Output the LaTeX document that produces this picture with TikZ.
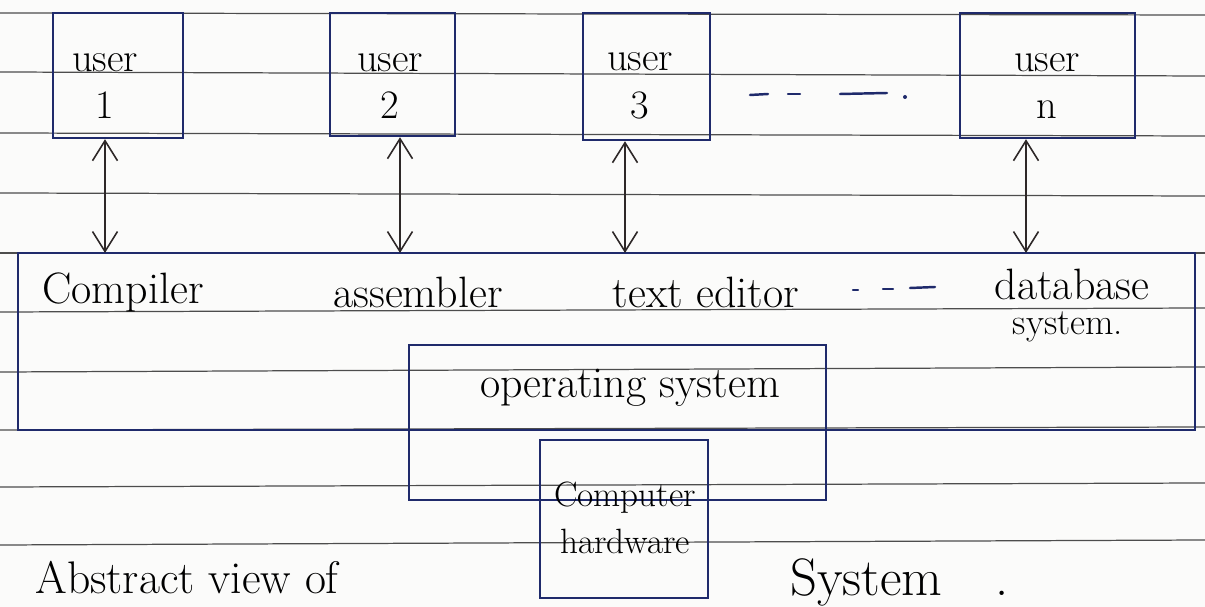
\documentclass[tikz,border=0pt]{standalone}
\usetikzlibrary{arrows.meta,fit}
\definecolor{ink}{HTML}{1F2A6B}
\definecolor{rulegray}{HTML}{4D4D4D}
\definecolor{pencil}{HTML}{2E2828}
\definecolor{paper}{HTML}{FBFBFA}
\begin{document}
\begin{tikzpicture}[x=0.02cm,y=-0.02cm,
  box/.style={draw=ink,line width=1.4pt,inner sep=0pt},
  ruleline/.style={draw=rulegray,line width=0.7pt},
  link/.style={draw=pencil,line width=0.9pt,
    {Straight Barb[length=4mm,width=5mm]}-{Straight Barb[length=4mm,width=5mm]}},
  usertext/.style={font=\fontsize{23}{27}\selectfont,align=center,inner sep=0pt},
  lbl/.style={font=\fontsize{25}{27}\selectfont,inner sep=0pt},
  dashmark/.style={draw=ink,line width=1.4pt,line cap=round}
]
\useasboundingbox (0,0) rectangle (1205,607);
\clip (0,0) rectangle (1205,607);
\fill[paper] (0,0) rectangle (1205,607);

% ruled paper lines
\foreach \l/\r in {13/15,72/76,133/136,193/196,253/253,312/308,372/367,430/427,487/483,545/540}
  \draw[ruleline] (0,\l) -- (1205,\r);

% user boxes
\node[box,fit={(53,13) (183,138)}] (u1) {};
\node[box,fit={(330,13) (455,136)}] (u2) {};
\node[box,fit={(583,13) (710,140)}] (u3) {};
\node[box,fit={(960,13) (1135,138)}] (un) {};

\node[usertext] (t1) at (105,86) {user\\1};
\node[usertext] (t2) at (390,86) {user\\2};
\node[usertext] (t3) at (640,86) {user\\3};
\node[usertext] (tn) at (1047,86) {user\\n};

% dashes between user 3 and user n
\draw[dashmark] (750,95) -- (768,94);
\draw[dashmark] (788,94) -- (800,94);
\draw[dashmark] (840,94) -- (887,93);
\fill[ink] (905,97) circle (2);

% application programs box
\node[box,fit={(18,253) (1195,430)}] (apps) {};

% connectors
\coordinate (a1) at (105,253);
\coordinate (a2) at (400,253);
\coordinate (a3) at (625,253);
\coordinate (an) at (1026,253);
\draw[link] (a1) -- (a1 |- u1.south);
\draw[link] (a2) -- (a2 |- u2.south);
\draw[link] (a3) -- (a3 |- u3.south);
\draw[link] (an) -- (an |- un.south);

% application labels
\node[lbl] (comp) at (123,292) {Compiler};
\node[lbl] (asm) at (418,292) {assembler};
\node[lbl] (ted) at (706,292) {text editor};
\draw[dashmark] (853,290) -- (858,290);
\draw[dashmark] (883,289) -- (893,289);
\draw[dashmark] (910,288) -- (935,287);
\node[lbl] (db) at (1072,284) {database};
\node[lbl,font=\fontsize{21}{23}\selectfont] (dbs) at (1068,327) {system.};

% operating system box
\node[box,fit={(409,345) (826,500)}] (os) {};
\node[lbl] (ostext) at (630,388) {operating system};

% computer hardware box
\node[box,fit={(540,440) (708,598)}] (hw) {};
\node[usertext,font=\fontsize{20}{27}\selectfont] (hwtext) at (625,518) {Computer\\hardware};

% caption at the photo edge
\node[anchor=base west,inner sep=0pt,font=\fontsize{26}{28}\selectfont] (cap1) at (35,594) {Abstract view of};
\node[anchor=base west,inner sep=0pt,font=\fontsize{30}{32}\selectfont] (cap2) at (790,596) {System\quad.};
\end{tikzpicture}
\end{document}
